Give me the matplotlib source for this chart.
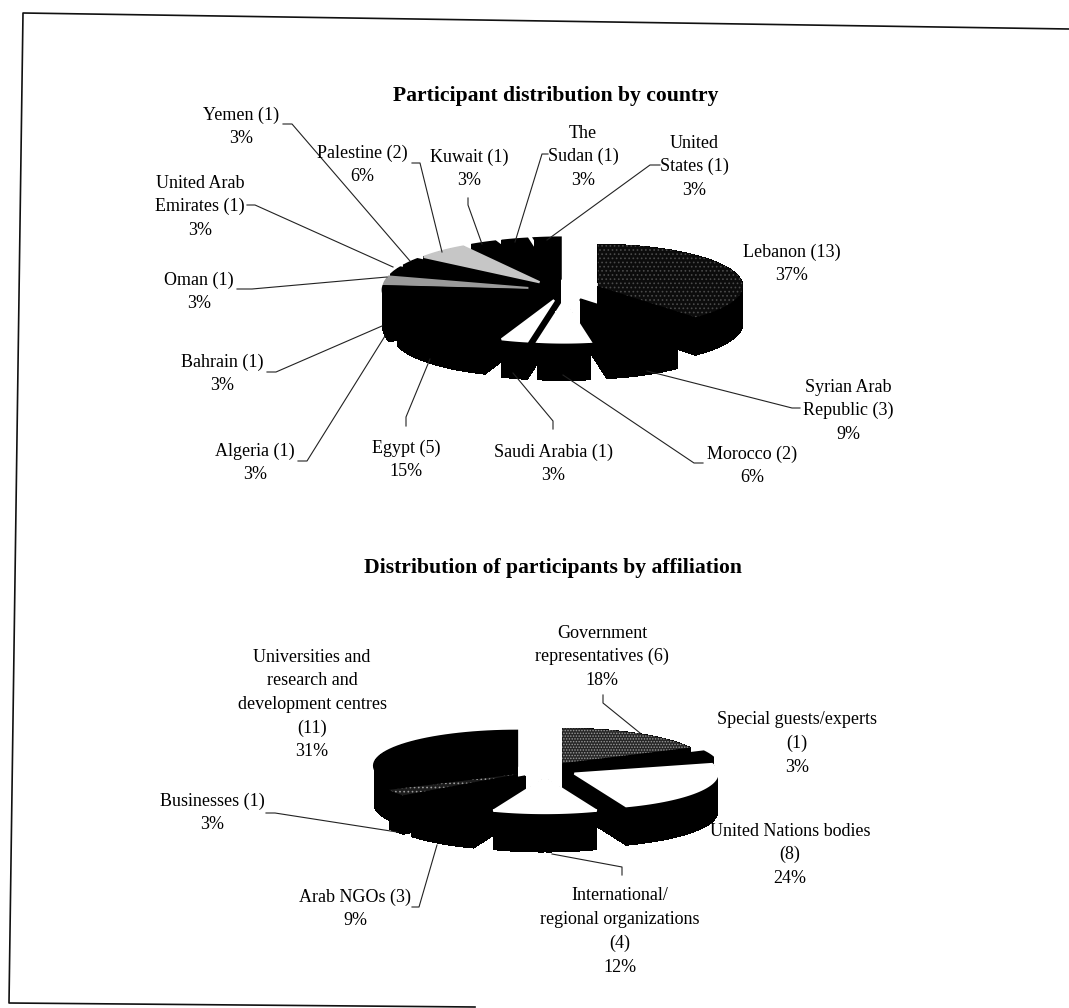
#imports
import numpy as np
import matplotlib
matplotlib.use('Agg')
import matplotlib.pyplot as plt
from matplotlib.patches import Polygon

plt.rcParams['font.family'] = ['Liberation Serif', 'DejaVu Serif']
plt.rcParams['hatch.linewidth'] = 0.7

#data
country_names = ['Lebanon', 'Syrian Arab\nRepublic', 'Morocco', 'Saudi Arabia', 'Egypt', 'Algeria', 'Bahrain', 'Oman',
                 'United Arab\nEmirates', 'Yemen', 'Palestine', 'Kuwait', 'The\nSudan', 'United\nStates']
country_counts = [13, 3, 2, 1, 5, 1, 1, 1, 1, 1, 2, 1, 1, 1]
country_pcts = [37, 9, 6, 3, 15, 3, 3, 3, 3, 3, 6, 3, 3, 3]

affil_names = ['Government\nrepresentatives', 'Special guests/experts\n', 'United Nations bodies\n',
               'International/\nregional organizations\n', 'Arab NGOs', 'Businesses',
               'Universities and\nresearch and\ndevelopment centres\n']
affil_counts = [6, 1, 8, 4, 3, 1, 11]
affil_pcts = [18, 3, 24, 12, 9, 3, 31]

#styles of the top faces: (face, hatch colour, hatch)
BLACK = ('black', None, None)
WHITE = ('white', None, None)
DARK = ('#0c0c0c', '#4a4a4a', '....')
MID = ('#262626', '#9a9a9a', '......')
country_tops = [DARK, BLACK, WHITE, WHITE, BLACK, BLACK, BLACK, ('#9a9a9a', None, None), BLACK, BLACK,
                ('#c6c6c6', None, None), BLACK, BLACK, BLACK]
affil_tops = [MID, BLACK, WHITE, WHITE, BLACK, ('#1c1c1c', '#9a9a9a', '....'), BLACK]

#layout, in pixels of the page
country_label_pos = [(792, 252), (848, 387), (752, 454), (553, 452), (406, 448), (255, 451), (222, 362), (199, 280),
                     (200, 183), (241, 115), (362, 153), (469, 157), (583, 133), (694, 143)]
affil_label_pos = [(602, 633), (797, 720), (790, 831), (620, 896), (355, 897), (212, 801), (312, 657)]
country_leaders = [
    None,
    [(800, 408), (792, 408), (647, 371)],
    [(703, 463), (694, 463), (563, 375)],
    [(553, 429), (553, 421), (513, 373)],
    [(406, 426), (406, 417), (430, 359)],
    [(298, 461), (307, 461), (385, 336)],
    [(267, 372), (276, 372), (382, 326)],
    [(237, 289), (252, 289), (387, 277)],
    [(247, 205), (255, 205), (393, 267)],
    [(283, 124), (292, 124), (410, 261)],
    [(412, 163), (420, 163), (442, 252)],
    [(468, 198), (468, 205), (482, 244)],
    [(548, 154), (542, 154), (515, 242)],
    [(660, 165), (650, 165), (547, 240)],
]
affil_leaders = [
    [(603, 695), (603, 703), (640, 733)],
    None,
    None,
    [(622, 875), (622, 867), (552, 854)],
    [(412, 907), (419, 907), (437, 845)],
    [(266, 813), (275, 813), (397, 832)],
    None,
]
LINE_STEP = 23.7


def draw_pie(ax, counts, tops, cx, cy, rx, ry, height, explode):
    counts = np.array(counts, dtype=float)
    edges = np.radians(np.concatenate([[0], np.cumsum(counts)]) / counts.sum() * 360)
    mids = (edges[:-1] + edges[1:]) / 2
    # back wedges first so the front ones paint over them
    for i in np.argsort(-np.cos(mids)):
        x0 = cx + explode * rx * np.sin(mids[i])
        y0 = cy - explode * ry * np.cos(mids[i])
        t = np.linspace(edges[i], edges[i + 1], 40)
        xs = np.concatenate([[x0], x0 + rx * np.sin(t)])
        ys = np.concatenate([[y0], y0 - ry * np.cos(t)])
        for k in range(len(xs)):
            j = (k + 1) % len(xs)
            ax.add_patch(Polygon([(xs[k], ys[k]), (xs[j], ys[j]), (xs[j], ys[j] + height), (xs[k], ys[k] + height)],
                                 facecolor='black', lw=0, antialiased=False))
        face, hatch_col, hatch = tops[i]
        ax.add_patch(Polygon(np.column_stack([xs, ys]), facecolor=face, edgecolor=hatch_col or face,
                             hatch=hatch, lw=0 if hatch else 1.6))


def draw_labels(ax, names, counts, pcts, positions):
    for name, n, p, (x, y) in zip(names, counts, pcts, positions):
        first = name + '(%d)' % n if name.endswith('\n') else name + ' (%d)' % n
        lines = (first + '\n%d%%' % p).split('\n')
        for k, line in enumerate(lines):
            ax.text(x, y + k * LINE_STEP, line, ha='center', va='center', fontsize=13, color='black')


def draw_leaders(ax, leaders):
    for pts in leaders:
        if pts is not None:
            ax.plot(*zip(*pts), color='#222222', lw=0.8)


fig = plt.figure(figsize=(10.69, 10.08), dpi=100)
ax = fig.add_axes([0, 0, 1, 1])
ax.set_xlim(0, 1069)
ax.set_ylim(1008, 0)
ax.axis('off')

#scanned frame, slightly tilted
ax.plot([1069, 23, 9, 475], [29, 13, 1003, 1007], color='#111111', lw=1.2)

draw_pie(ax, country_counts, country_tops, 564, 290, 145, 42, 38, 0.25)
draw_pie(ax, affil_counts, affil_tops, 545, 770, 143, 35, 39, 0.23)

draw_leaders(ax, country_leaders)
draw_leaders(ax, affil_leaders)
draw_labels(ax, country_names, country_counts, country_pcts, country_label_pos)
draw_labels(ax, affil_names, affil_counts, affil_pcts, affil_label_pos)

ax.text(556, 96, 'Participant distribution by country', ha='center', va='center', fontsize=15.6, fontweight='bold')
ax.text(553, 568, 'Distribution of participants by affiliation', ha='center', va='center', fontsize=15.6,
        fontweight='bold')

plt.savefig('out.png', dpi=100)
